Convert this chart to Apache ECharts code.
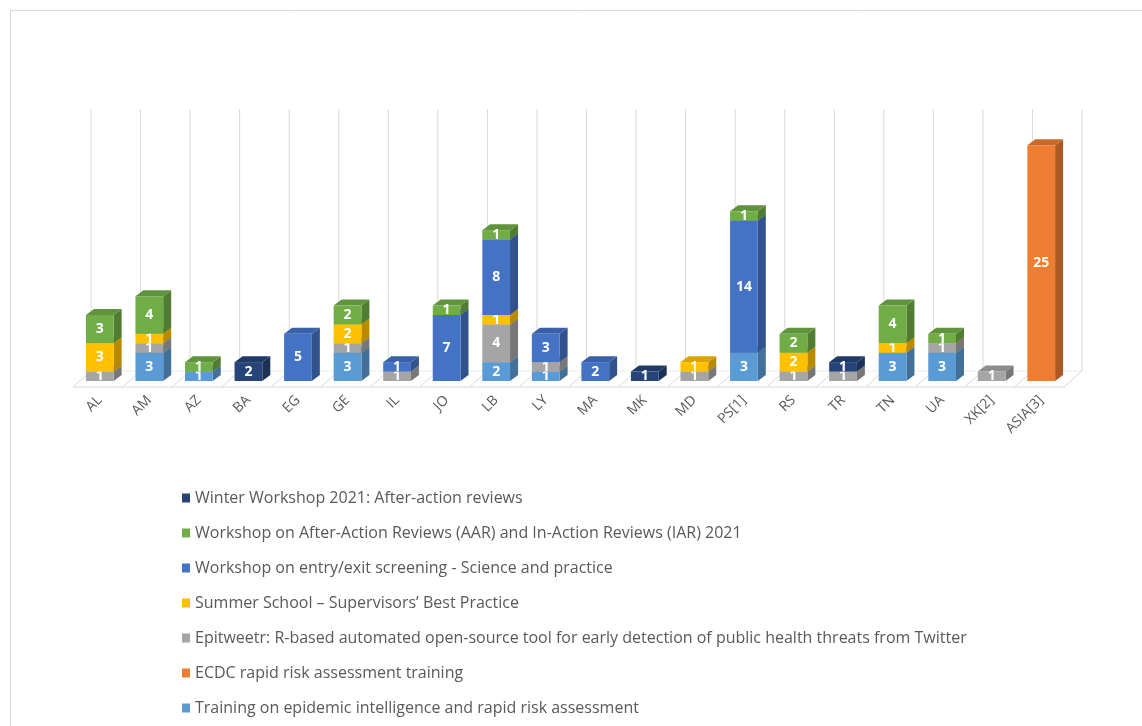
<!DOCTYPE html>
<html>
<head>
<meta charset="utf-8">
<script src="https://cdn.jsdelivr.net/npm/echarts@6/dist/echarts.min.js"></script>
<style>
html,body{margin:0;padding:0;background:#fff;}
#chart{width:1142px;height:726px;}
</style>
</head>
<body>
<div id="chart"></div>
<script>
const categories = ['AL','AM','AZ','BA','EG','GE','IL','JO','LB','LY','MA','MK','MD','PS[1]','RS','TR','TN','UA','XK[2]','ASIA[3]'];

// stacked bottom -> top
const training   = [0,3,1,0,0,3,0,0,2,1,0,0,0,3,0,0,3,3,0,0];
const ecdc       = [0,0,0,0,0,0,0,0,0,0,0,0,0,0,0,0,0,0,0,25];
const epitweetr  = [1,1,0,0,0,1,1,0,4,1,0,0,1,0,1,1,0,1,1,0];
const summer     = [3,1,0,0,0,2,0,0,1,0,0,0,1,0,2,0,1,0,0,0];
const entryExit  = [0,0,0,0,5,0,1,7,8,3,2,0,0,14,0,0,0,0,0,0];
const aarIar     = [3,4,1,0,0,2,0,1,1,0,0,0,0,1,2,0,4,1,0,0];
const winter     = [0,0,0,2,0,0,0,0,0,0,0,1,0,0,0,1,0,0,0,0];

const seriesNames = [
  'Training on epidemic intelligence and rapid risk assessment',
  'ECDC rapid risk assessment training',
  'Epitweetr: R-based automated open-source tool for early detection of public health threats from Twitter',
  'Summer School – Supervisors’ Best Practice',
  'Workshop on entry/exit screening - Science and practice',
  'Workshop on After-Action Reviews (AAR) and In-Action Reviews (IAR) 2021',
  'Winter Workshop 2021: After-action reviews'
];
const seriesValues = [training, ecdc, epitweetr, summer, entryExit, aarIar, winter];
const seriesColors = ['#5B9BD5','#ED7D31','#A5A5A5','#FFC000','#4472C4','#70AD47','#264478'];
const legendOrder = [6,5,4,3,2,1,0];

const DX = 8, DY = -6;
function shade(hex, f){
  const n = parseInt(hex.slice(1),16);
  const r = Math.round(((n>>16)&255)*f), g = Math.round(((n>>8)&255)*f), b = Math.round((n&255)*f);
  return 'rgb('+r+','+g+','+b+')';
}

const bases = categories.map(()=>0);
const barSeries = seriesValues.map((vals, si) => {
  const data = vals.map((v, i) => { const d = [i, bases[i], v]; bases[i] += v; return d; });
  const color = seriesColors[si];
  return {
    type: 'custom',
    name: seriesNames[si],
    itemStyle: { color: color },
    z: 3,
    data: data,
    encode: { x: 0, y: [1, 2] },
    renderItem: function(params, api){
      const cat = api.value(0), base = api.value(1), v = api.value(2);
      if (!v) return null;
      const p0 = api.coord([cat, base]);
      const p1 = api.coord([cat, base + v]);
      const bw = api.size([1, 0])[0] * 0.56;
      const x0 = p0[0] - bw/2, x1 = p0[0] + bw/2;
      const y0 = p0[1], y1 = p1[1];
      return {
        type: 'group',
        children: [
          { type: 'polygon', shape: { points: [[x1,y1],[x1+DX,y1+DY],[x1+DX,y0+DY],[x1,y0]] }, style: { fill: shade(color, 0.72) } },
          { type: 'polygon', shape: { points: [[x0,y1],[x0+DX,y1+DY],[x1+DX,y1+DY],[x1,y1]] }, style: { fill: shade(color, 0.85) } },
          { type: 'rect', shape: { x: x0, y: y1, width: x1 - x0, height: y0 - y1 }, style: { fill: color } },
          { type: 'text', x: (x0 + x1)/2, y: (y0 + y1)/2,
            style: { text: String(v), fill: '#ffffff', font: 'bold 14px "Open Sans", sans-serif', align: 'center', verticalAlign: 'middle' } }
        ]
      };
    }
  };
});

// back wall / floor lines drawn through the category axis
const wallData = categories.map((c, i) => [i, 0]);
const wallSeries = {
  type: 'custom',
  name: 'wall',
  silent: true,
  z: 1,
  data: wallData,
  encode: { x: 0, y: 1 },
  renderItem: function(params, api){
    const i = api.value(0);
    const p = api.coord([i, 0]);
    const top = api.coord([i, 28]);
    const bw = api.size([1, 0])[0];
    const children = [];
    const addBoundary = (bx) => {
      children.push({ type: 'polyline', shape: { points: [[bx + 16, top[1] - 8], [bx + 16, p[1] - 10], [bx - 2, p[1] + 6]] },
        style: { stroke: '#d9d9d9', lineWidth: 1, fill: null } });
    };
    const bx = p[0] - bw/2;
    addBoundary(bx);
    children.push({ type: 'line', shape: { x1: bx - 2, y1: p[1] + 6, x2: bx + bw - 2, y2: p[1] + 6 }, style: { stroke: '#d9d9d9', lineWidth: 1 } });
    children.push({ type: 'line', shape: { x1: bx + 16, y1: p[1] - 10, x2: bx + bw + 16, y2: p[1] - 10 }, style: { stroke: '#ececec', lineWidth: 1 } });
    if (i === categories.length - 1) addBoundary(bx + bw);
    return { type: 'group', children: children };
  }
};

const chart = echarts.init(document.getElementById('chart'), null, { renderer: 'canvas' });
chart.setOption({
  backgroundColor: '#ffffff',
  animation: false,
  graphic: [{ type: 'rect', left: 8, top: 8, shape: { width: 1200, height: 800 }, style: { fill: null, stroke: '#d9d9d9', lineWidth: 1 }, silent: true }],
  grid: { left: 75, right: 76, top: 117, bottom: 345 },
  xAxis: {
    type: 'category',
    data: categories,
    axisLine: { show: false },
    axisTick: { show: false },
    splitLine: { show: false },
    axisLabel: { rotate: 45, margin: 17, color: '#595959', fontSize: 14, fontFamily: 'Open Sans', interval: 0 }
  },
  yAxis: { type: 'value', min: 0, max: 28, show: false },
  legend: {
    orient: 'vertical',
    left: 177,
    top: 485,
    itemWidth: 8,
    itemHeight: 9,
    itemGap: 19,
    icon: 'rect',
    data: legendOrder.map(k => seriesNames[k]),
    textStyle: { color: '#595959', fontSize: 16, fontFamily: 'Open Sans' }
  },
  series: [wallSeries].concat(barSeries)
});
</script>
</body>
</html>
